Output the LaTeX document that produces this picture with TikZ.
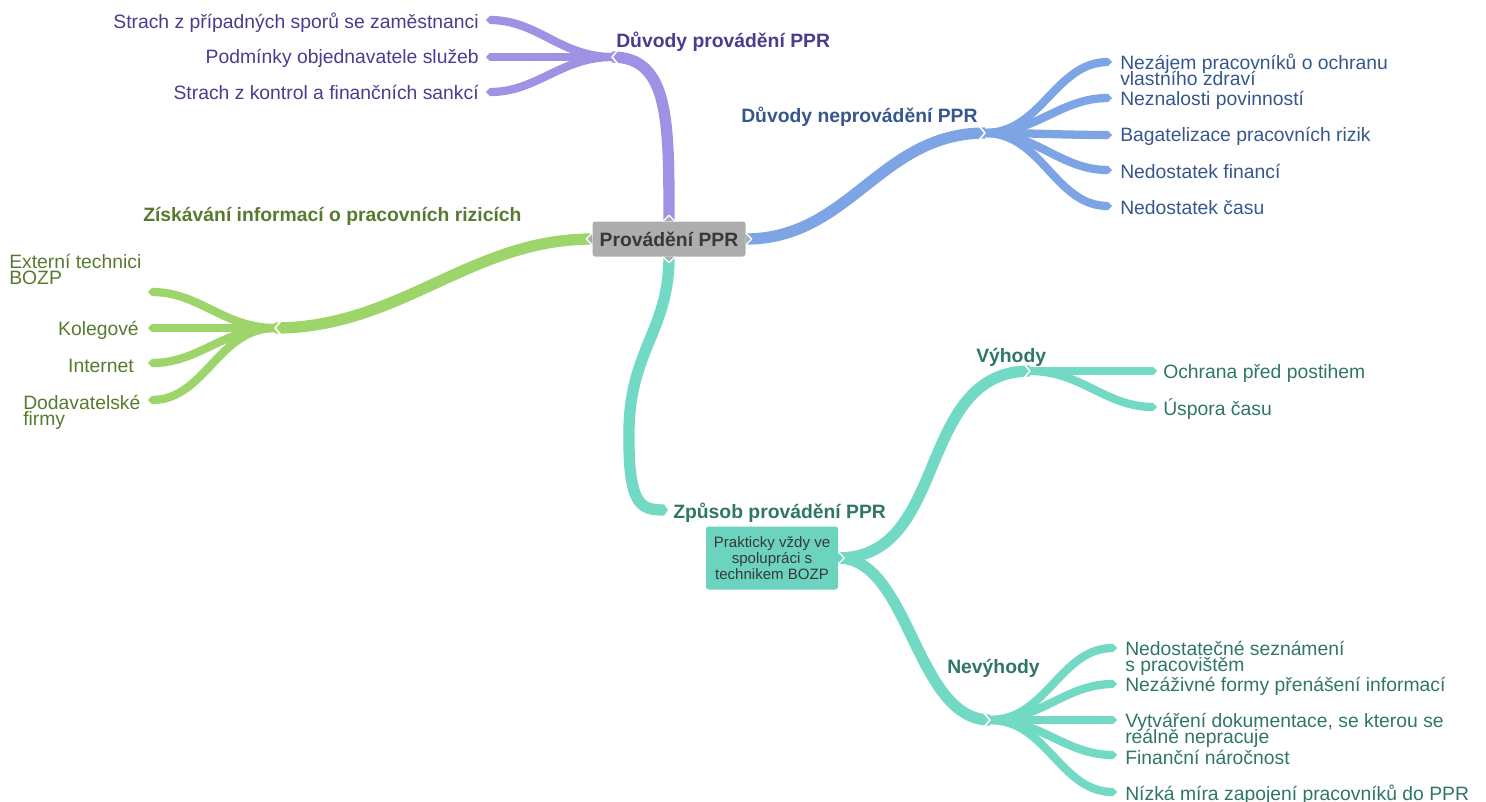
\documentclass[tikz,border=0pt]{standalone}
\usepackage{fontspec}
\setmainfont{Liberation Sans}
\usepackage{xcolor}
\usepackage{tikz}
\usetikzlibrary{arrows.meta}

\definecolor{lavline}{HTML}{9D92E4}
\definecolor{lavtext}{HTML}{4A3C8E}
\definecolor{blueline}{HTML}{7DA5E5}
\definecolor{bluetext}{HTML}{36568E}
\definecolor{greenline}{HTML}{9ED56A}
\definecolor{greentext}{HTML}{567B30}
\definecolor{tealline}{HTML}{72D9C4}
\definecolor{tealtext}{HTML}{2F7666}
\definecolor{tealbox}{HTML}{6CD4BE}
\definecolor{boxgray}{HTML}{ADADAD}
\definecolor{boxtext}{HTML}{383838}
\newcommand\leaffont{\fontsize{14.5}{12}\selectfont\setlength{\lineskiplimit}{-20pt}}

\begin{document}
\begin{tikzpicture}[line join=round,x=0.75pt,y=-0.75pt,
	trunk/.style={line width=8.5pt,line cap=butt},
	twig/.style={line width=6.2pt,line cap=butt,-{Triangle[length=3pt,width=0pt 1,line width=0pt]}},
	notch/.style={white,line width=1.2pt,line cap=butt},
	bump/.style={draw=white,line width=1pt},
	head/.style={font=\bfseries\fontsize{14.5}{15}\selectfont,inner sep=0pt},
	leaf/.style={font=\leaffont,inner sep=0pt,align=left}]
	\useasboundingbox (0,0) rectangle (1486,801);
	% topics
	\node[fill=boxgray,rounded corners=2pt,minimum width=114.75pt,minimum height=26.25pt,text=boxtext,font=\bfseries\fontsize{14.5}{15}\selectfont] (ctr) at (669,239) {Provádění PPR};
	\node[fill=tealbox,rounded corners=2pt,minimum width=99pt,minimum height=47.25pt,align=center,text=boxtext,font=\fontsize{11.3}{11.7}\selectfont] (boxZ) at (772,558) {Prakticky vždy ve\\spolupráci s\\technikem BOZP};
	\node[head,lavtext,anchor=base west] (hP) at (616,47) {Důvody provádění PPR};
	\node[head,bluetext,anchor=base west] (hB) at (741,122) {Důvody neprovádění PPR};
	\node[head,greentext,anchor=base west] (hG) at (143,221) {Získávání informací o pracovních rizicích};
	\node[head,tealtext,anchor=base west] (hZ) at (673,518) {Způsob provádění PPR};
	\node[head,tealtext,anchor=base west] (hV) at (976,362) {Výhody};
	\node[head,tealtext,anchor=base west] (hN) at (947,673) {Nevýhody};
	% purple leaves
	\node[leaf,lavtext,anchor=base east] (tP1) at (479,28) {Strach z případných sporů se zaměstnanci};
	\node[leaf,lavtext,anchor=base east] (tP2) at (479,63) {Podmínky objednavatele služeb};
	\node[leaf,lavtext,anchor=base east] (tP3) at (479,99) {Strach z kontrol a finančních sankcí};
	% blue leaves
	\node[leaf,bluetext,anchor=west] (tB1) at (1120,70) {Nezájem pracovníků o ochranu\\vlastního zdraví};
	\node[leaf,bluetext,anchor=base west] (tB2) at (1120,105) {Neznalosti povinností};
	\node[leaf,bluetext,anchor=base west] (tB3) at (1120,141) {Bagatelizace pracovních rizik};
	\node[leaf,bluetext,anchor=base west] (tB4) at (1120,178) {Nedostatek financí};
	\node[leaf,bluetext,anchor=base west] (tB5) at (1120,214) {Nedostatek času};
	% green leaves
	\node[leaf,greentext,anchor=west] (tG1) at (9,269) {Externí technici\\BOZP};
	\node[leaf,greentext,anchor=base east] (tG2) at (139,335) {Kolegové};
	\node[leaf,greentext,anchor=base east] (tG3) at (134,372) {Internet};
	\node[leaf,greentext,anchor=west] (tG4) at (23,412) {Dodavatelské\\firmy};
	% teal leaves
	\node[leaf,tealtext,anchor=base west] (tV1) at (1163,378) {Ochrana před postihem};
	\node[leaf,tealtext,anchor=base west] (tV2) at (1163,415) {Úspora času};
	\node[leaf,tealtext,anchor=west] (tN1) at (1125,658) {Nedostatečné seznámení\\s pracovištěm};
	\node[leaf,tealtext,anchor=base west] (tN2) at (1125,691) {Nezáživné formy přenášení informací};
	\node[leaf,tealtext,anchor=west] (tN3) at (1125,730) {Vytváření dokumentace, se kterou se\\reálně nepracuje};
	\node[leaf,tealtext,anchor=base west] (tN4) at (1125,764) {Finanční náročnost};
	\node[leaf,tealtext,anchor=base west] (tN5) at (1125,800) {Nízká míra zapojení pracovníků do PPR};
	% hubs and tips
	\coordinate (hubP) at (612,57);
	\coordinate (hubB) at (985,133);
	\coordinate (hubG) at (275,328);
	\coordinate (zEnd) at (668,510);
	\coordinate (hubV) at (1030,371);
	\coordinate (hubN) at (990,720);
	\coordinate (tipP1) at (486,20);
	\coordinate (tipP2) at (486,57);
	\coordinate (tipP3) at (486,92);
	\coordinate (tipB1) at (1112,62);
	\coordinate (tipB2) at (1112,98);
	\coordinate (tipB3) at (1112,135);
	\coordinate (tipB4) at (1112,170);
	\coordinate (tipB5) at (1112,206);
	\coordinate (tipG1) at (148,292);
	\coordinate (tipG2) at (148,328);
	\coordinate (tipG3) at (148,363);
	\coordinate (tipG4) at (148,400);
	\coordinate (tipV1) at (1157,371);
	\coordinate (tipV2) at (1157,407);
	\coordinate (tipN1) at (1117,648);
	\coordinate (tipN2) at (1117,684);
	\coordinate (tipN3) at (1117,720);
	\coordinate (tipN4) at (1117,755);
	\coordinate (tipN5) at (1117,792);
	% purple branch
	\draw[trunk,lavline] (ctr.north) .. controls (669,120) and (669,57) .. (hubP);
	\draw[twig,lavline] (hubP) to[out=180,in=0] (tipP1);
	\draw[twig,lavline] (hubP) -- (tipP2);
	\draw[twig,lavline] (hubP) to[out=180,in=0] (tipP3);
	% blue branch
	\draw[trunk,blueline] (ctr.east) .. controls (850,239) and (880,133) .. (hubB);
	\foreach \k in {1,...,5}
		\draw[twig,blueline] (hubB) to[out=0,in=180] (tipB\k);
	% green branch
	\draw[trunk,greenline] (ctr.west) .. controls (470,239) and (400,328) .. (hubG);
	\foreach \k in {1,...,4}
		\draw[twig,greenline] (hubG) to[out=180,in=0] (tipG\k);
	% teal branch
	\draw[trunk,tealline,-{Triangle[length=3pt,width=0pt 1,line width=0pt]}] (ctr.south) .. controls (669,330) and (630,350) .. (629,430) .. controls (628,505) and (640,510) .. (zEnd);
	\draw[trunk,tealline] (boxZ.east) .. controls (950,558) and (915,371) .. (hubV);
	\draw[trunk,tealline] (boxZ.east) .. controls (910,558) and (915,720) .. (hubN);
	\foreach \k in {1,2}
		\draw[twig,tealline] (hubV) to[out=0,in=180] (tipV\k);
	\foreach \k in {1,...,5}
		\draw[twig,tealline] (hubN) to[out=0,in=180] (tipN\k);
	% notches
	\draw[notch] (hubP) ++(6,-7) -- ++(-6,7) -- ++(6,7);
	\draw[notch] (hubG) ++(6,-7) -- ++(-6,7) -- ++(6,7);
	\draw[notch] (hubB) ++(-6,-7) -- ++(6,7) -- ++(-6,7);
	\draw[notch] (hubV) ++(-6,-7) -- ++(6,7) -- ++(-6,7);
	\draw[notch] (hubN) ++(-6,-7) -- ++(6,7) -- ++(-6,7);
	\filldraw[bump,fill=boxgray] (ctr.north) ++(-6,0) -- ++(6,-6) -- ++(6,6);
	\filldraw[bump,fill=boxgray] (ctr.south) ++(-6,0) -- ++(6,6) -- ++(6,-6);
	\filldraw[bump,fill=boxgray] (ctr.east) ++(0,-6) -- ++(6,6) -- ++(-6,6);
	\filldraw[bump,fill=boxgray] (ctr.west) ++(0,-6) -- ++(-6,6) -- ++(6,6);
	\filldraw[bump,fill=tealbox] (boxZ.east) ++(0,-6) -- ++(6,6) -- ++(-6,6);
\end{tikzpicture}
\end{document}
